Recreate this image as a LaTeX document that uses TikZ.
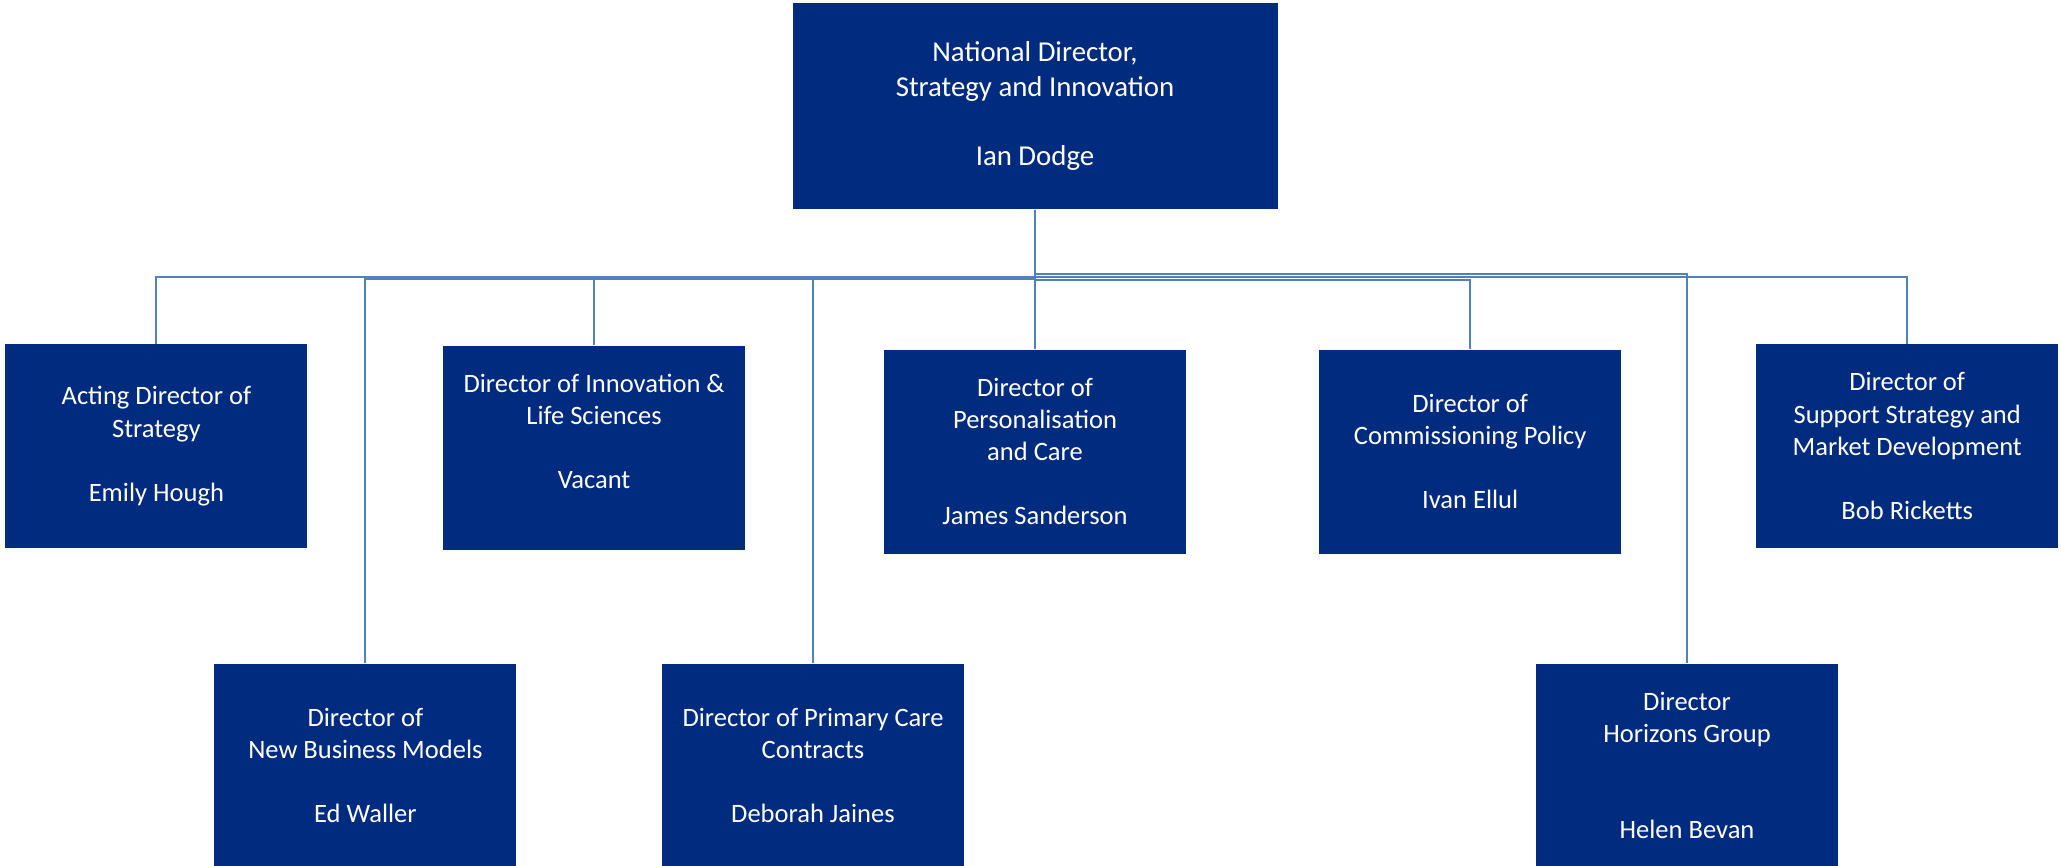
\documentclass[tikz,border=0pt]{standalone}
\usepackage{fontspec}
\setmainfont{Carlito}
\definecolor{boxblue}{HTML}{002B7F}
\definecolor{linkblue}{HTML}{4F81BD}

\begin{document}
\begin{tikzpicture}[
  role/.style={fill=boxblue, text=white, align=center, inner sep=0pt,
    minimum width=3.02cm, minimum height=2.04cm,
    font=\fontsize{7.55}{9.16}\selectfont},
  wire/.style={linkblue, line width=0.6pt}]
\useasboundingbox (0,0) rectangle (20.61,8.65);
\clip (0,0) rectangle (20.61,8.65);

% top box
\node[role, minimum width=4.85cm, minimum height=2.06cm,
  font=\fontsize{8.2}{9.8}\selectfont] (natdir) at (10.35,7.59)
  {National Director,\\Strategy and Innovation\\[9.8pt]Ian Dodge};

% first row
\node[role] (strat) at (1.564,4.187) {Acting Director of\\Strategy\\[9.16pt]Emily Hough};
\node[role] (innov) at (5.941,4.174) {Director of Innovation \&\\Life Sciences\\[9.16pt]Vacant\\\mbox{}};
\node[role] (pers) at (10.35,4.135) {Director of\\Personalisation\\and Care\\[9.16pt]James Sanderson};
\node[role] (comm) at (14.702,4.135) {Director of\\Commissioning Policy\\[9.16pt]Ivan Ellul};
\node[role] (supp) at (19.072,4.187) {Director of\\Support Strategy and\\Market Development\\[9.16pt]Bob Ricketts};

% second row
\node[role] (newbus) at (3.654,0.994) {Director of\\New Business Models\\[9.16pt]Ed Waller};
\node[role] (primc) at (8.130,0.994) {Director of Primary Care\\Contracts\\[9.16pt]Deborah Jaines};
\node[role] (horiz) at (16.870,0.994) {Director\\Horizons Group\\[18.3pt]Helen Bevan};

% connectors
\draw[wire] (natdir.south) -- ++(0,-0.677) -| (strat.north);
\draw[wire] (natdir.south) -- ++(0,-0.693) -| (newbus.north);
\draw[wire] (natdir.south) -- ++(0,-0.693) -| (innov.north);
\draw[wire] (natdir.south) -- ++(0,-0.693) -| (primc.north);
\draw[wire] (natdir.south) -- (pers.north);
\draw[wire] (natdir.south) -- ++(0,-0.700) -| (comm.north);
\draw[wire] (natdir.south) -- ++(0,-0.643) -| (horiz.north);
\draw[wire] (natdir.south) -- ++(0,-0.677) -| (supp.north);
\end{tikzpicture}
\end{document}
